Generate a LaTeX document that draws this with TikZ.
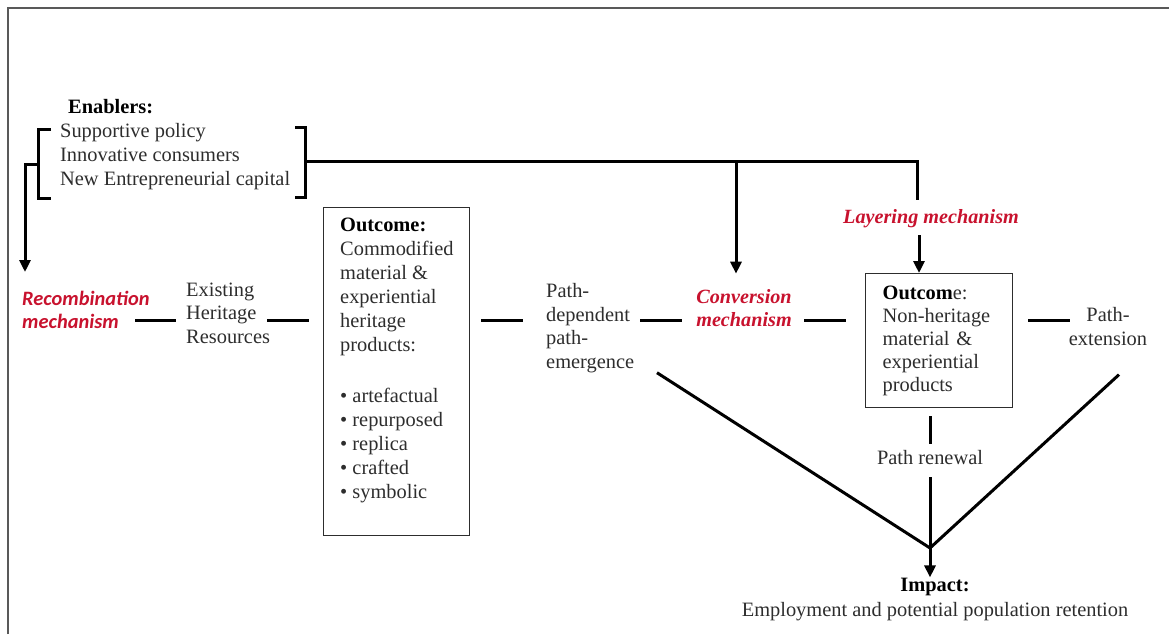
\documentclass[tikz,border=0pt]{standalone}
\usepackage{fontspec}
\setmainfont{Liberation Serif}
\newfontfamily\carlito{Carlito}
\usetikzlibrary{arrows.meta,calc}
\definecolor{mechred}{RGB}{200,18,46}
\definecolor{ink}{RGB}{45,45,45}

\begin{document}
\begin{tikzpicture}[x=1pt,y=-1pt,
  txt/.style={inner sep=0pt, text=ink, font=\fontsize{20.4}{23.5}\selectfont, align=left},
  mech/.style={inner sep=0pt, text=mechred, font=\fontsize{20.2}{23}\selectfont\bfseries\itshape, align=center},
  outbox/.style={draw=ink, line width=1.3pt, inner sep=0pt},
  link/.style={line width=3pt, black},
  arr/.style={link, -{Triangle[length=12pt,width=11pt]}},
  brace/.style={line width=3pt, black, line cap=butt}]

\useasboundingbox (0,0) rectangle (1169,634);

% frame
\draw[black!65, line width=2pt] (8,634) -- (8,8) -- (1169,8);

% enablers
\node[txt, font=\fontsize{20.4}{23.5}\selectfont\bfseries, text=black, anchor=west] (enab) at (68,107) {Enablers:};
\node[txt, anchor=west, font=\fontsize{20.4}{24}\selectfont] (enlist) at (60,157)
  {Supportive policy\\Innovative consumers\\New Entrepreneurial capital};
\draw[brace] (51,129) -- (38,129) -- (38,198) -- (51,198);
\draw[brace] (295,127) -- (305,127) -- (305,197) -- (295,197);
\coordinate (brL) at (38,164);
\coordinate (brR) at (305,161);

% row of the path
\coordinate (row) at (0,320);

% mechanisms and stages
\node[mech, font=\fontsize{20.4}{23}\selectfont\carlito\bfseries\itshape, align=left, anchor=west] (recomb) at (22,310)
  {Recombination\\mechanism};
\node[txt, anchor=west] (exist) at (186,313) {Existing\\Heritage\\Resources};

\node[outbox, anchor=north west, minimum width=146, minimum height=328] (out1) at (323,207) {};
\node[txt, anchor=north west, font=\fontsize{20.4}{24}\selectfont] (out1t) at ([xshift=17pt,yshift=-11pt]out1.north west)
  {\textbf{\color{black}Outcome:}\\Commodified\\material \&\\experiential\\heritage\\products:\\[27pt]
   \textbullet\ artefactual\\\textbullet\ repurposed\\\textbullet\ replica\\\textbullet\ crafted\\\textbullet\ symbolic};

\node[txt, anchor=west] (pathem) at (546,328) {Path-\\dependent\\path-\\emergence};
\node[mech] (conv) at (744,308.5) {Conversion\\mechanism};
\node[mech] (layer) at (931,219) {Layering mechanism};

\node[outbox, anchor=north west, minimum width=147, minimum height=134, text width=113, inner xsep=17pt,
      text=ink, font=\fontsize{20.4}{23}\selectfont, align=left] (out2) at (865,273)
  {\textbf{\color{black}Outcom}e:\\Non-heritage\\material \&\\experiential\\products};

\node[txt, align=center] (pathext) at (1108,326.5) {Path-\\extension};
\node[txt] (renewal) at (930,458) {Path renewal};
\node[txt, align=center, font=\fontsize{20.4}{25}\selectfont] (impact) at (935,600)
  {\textbf{\color{black}Impact:}\\Employment and potential population retention};

\coordinate (meet) at (930,548);
\coordinate (tapC) at (736,161);

% connectors along the row
\draw[link] ([xshift=-51pt]exist.west |- row) -- ([xshift=-10pt]exist.west |- row);
\draw[link] ([xshift=-56pt]out1.west |- row) -- ([xshift=-14pt]out1.west |- row);
\draw[link] ([xshift=11pt]out1.east |- row) -- ([xshift=53pt]out1.east |- row);
\draw[link] ([xshift=-56pt]conv.west |- row) -- ([xshift=-14pt]conv.west |- row);
\draw[link] ([xshift=-61pt]out2.west |- row) -- ([xshift=-19pt]out2.west |- row);
\draw[link] ([xshift=15pt]out2.east |- row) -- ([xshift=57pt]out2.east |- row);

% enablers feed the mechanisms
\draw[arr] (brL) -- ++(-13,0) -- ++(0,108);
\draw[link] (brR) -| ([xshift=-14pt,yshift=10pt]layer.north);
\draw[arr] (tapC) -- ([xshift=-8pt,yshift=16pt]conv.north);
\draw[arr] ([xshift=-12pt,yshift=-7pt]layer.south) -- ([xshift=-12pt]layer.south |- out2.north);

% paths converge on the impact
\draw[link] ([yshift=-8pt]out2.south -| renewal) -- ([yshift=7pt]renewal.north);
\draw[link] ([yshift=-12pt]renewal.south) -- (meet);
\draw[link] ($(pathem.south west)+(111,0)$) -- (meet);
\draw[link] ($(pathext.south)+(11,29)$) -- (meet);
\draw[arr] (meet) -- ([yshift=1pt]meet |- impact.north);
\end{tikzpicture}
\end{document}
